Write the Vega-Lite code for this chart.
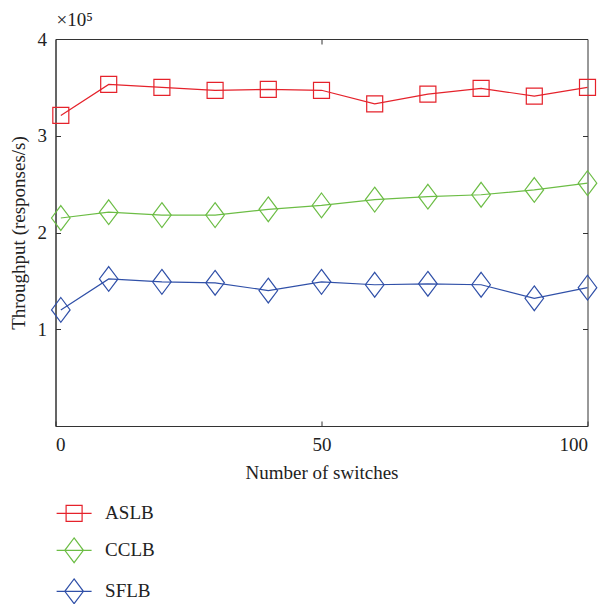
{
  "$schema": "https://vega.github.io/schema/vega-lite/v6.json",
  "autosize": {"type": "none"},
  "padding": {"left": 55.5, "top": 39, "right": 15, "bottom": 178},
  "width": 532,
  "height": 387,
  "background": "white",
  "config": {
    "view": {"stroke": "#333", "strokeWidth": 1},
    "axis": {
      "labelFont": "Liberation Serif", "labelFontSize": 19, "labelColor": "#222",
      "titleFont": "Liberation Serif", "titleFontSize": 19, "titleColor": "#222", "titleFontWeight": "normal",
      "domainColor": "#333", "tickColor": "#333", "grid": false, "tickSize": -5, "labelPadding": 14
    }
  },
  "title": {
    "text": "×10⁵", "anchor": "start", "frame": "group", "font": "Liberation Serif",
    "fontSize": 19, "fontWeight": "normal", "color": "#222", "offset": 0, "dx": 1
  },
  "data": {"values": [
    {"n": 1, "v": 321000, "s": "ASLB"}, {"n": 10, "v": 353000, "s": "ASLB"}, {"n": 20, "v": 350000, "s": "ASLB"},
    {"n": 30, "v": 347000, "s": "ASLB"}, {"n": 40, "v": 348000, "s": "ASLB"}, {"n": 50, "v": 347000, "s": "ASLB"},
    {"n": 60, "v": 333000, "s": "ASLB"}, {"n": 70, "v": 343000, "s": "ASLB"}, {"n": 80, "v": 349000, "s": "ASLB"},
    {"n": 90, "v": 341000, "s": "ASLB"}, {"n": 100, "v": 350000, "s": "ASLB"},
    {"n": 1, "v": 215000, "s": "CCLB"}, {"n": 10, "v": 221000, "s": "CCLB"}, {"n": 20, "v": 218000, "s": "CCLB"},
    {"n": 30, "v": 218000, "s": "CCLB"}, {"n": 40, "v": 224000, "s": "CCLB"}, {"n": 50, "v": 228000, "s": "CCLB"},
    {"n": 60, "v": 234000, "s": "CCLB"}, {"n": 70, "v": 237000, "s": "CCLB"}, {"n": 80, "v": 239000, "s": "CCLB"},
    {"n": 90, "v": 244000, "s": "CCLB"}, {"n": 100, "v": 251000, "s": "CCLB"},
    {"n": 1, "v": 120000, "s": "SFLB"}, {"n": 10, "v": 152000, "s": "SFLB"}, {"n": 20, "v": 149000, "s": "SFLB"},
    {"n": 30, "v": 148000, "s": "SFLB"}, {"n": 40, "v": 140000, "s": "SFLB"}, {"n": 50, "v": 149000, "s": "SFLB"},
    {"n": 60, "v": 146000, "s": "SFLB"}, {"n": 70, "v": 147000, "s": "SFLB"}, {"n": 80, "v": 146000, "s": "SFLB"},
    {"n": 90, "v": 132000, "s": "SFLB"}, {"n": 100, "v": 143000, "s": "SFLB"}
  ]},
  "layer": [
    {
      "mark": {"type": "line", "strokeWidth": 1.2},
      "encoding": {
        "x": {"field": "n", "type": "quantitative", "scale": {"domain": [0, 100]},
              "axis": {"values": [0, 50, 100], "title": "Number of switches", "titlePadding": 9}},
        "y": {"field": "v", "type": "quantitative", "scale": {"domain": [0, 400000]},
              "axis": {"values": [100000, 200000, 300000, 400000], "labelExpr": "datum.value / 100000",
                       "title": "Throughput (responses/s)", "titlePadding": 9}},
        "color": {"field": "s", "type": "nominal",
          "scale": {"domain": ["ASLB", "CCLB", "SFLB"], "range": ["#e5222b", "#6cbd45", "#3050a8"]},
          "legend": {
            "title": null, "orient": "none", "legendX": 5.6, "legendY": 461.3, "direction": "vertical",
            "padding": 0, "rowPadding": 11, "labelOffset": 18, "symbolSize": 615,
            "labelFont": "Liberation Serif", "labelFontSize": 19, "labelColor": "#222",
            "symbolStrokeWidth": 1.2,
            "encode": {"symbols": {"update": {
              "shape": {"signal": "datum.value === 'ASLB' ? 'M-1.41,0L1.41,0M-0.645,-0.645L0.645,-0.645L0.645,0.645L-0.645,0.645Z' : 'M-1.41,0L1.41,0M0,-1L0.75,0L0,1L-0.75,0Z'"},
              "fill": {"value": "transparent"},
              "stroke": {"scale": "color", "field": "value"},
              "strokeWidth": {"value": 1.2},
              "size": {"value": 615}
            }}}
          }}
      }
    },
    {
      "mark": {"type": "point", "filled": false, "strokeWidth": 1.2, "size": 615, "opacity": 1},
      "encoding": {
        "x": {"field": "n", "type": "quantitative", "axis": {"orient": "top", "values": [50], "labels": false, "title": null, "domain": false}},
        "y": {"field": "v", "type": "quantitative", "axis": {"orient": "right", "values": [100000, 200000, 300000], "labels": false, "title": null, "domain": false}},
        "color": {"field": "s", "type": "nominal", "legend": null},
        "shape": {"condition": {"test": "datum.s === 'ASLB'", "value": "M-0.645,-0.645L0.645,-0.645L0.645,0.645L-0.645,0.645Z"},
                  "value": "M0,-1L0.75,0L0,1L-0.75,0Z"}
      }
    }
  ],
  "resolve": {"axis": {"x": "independent", "y": "independent"}}
}
